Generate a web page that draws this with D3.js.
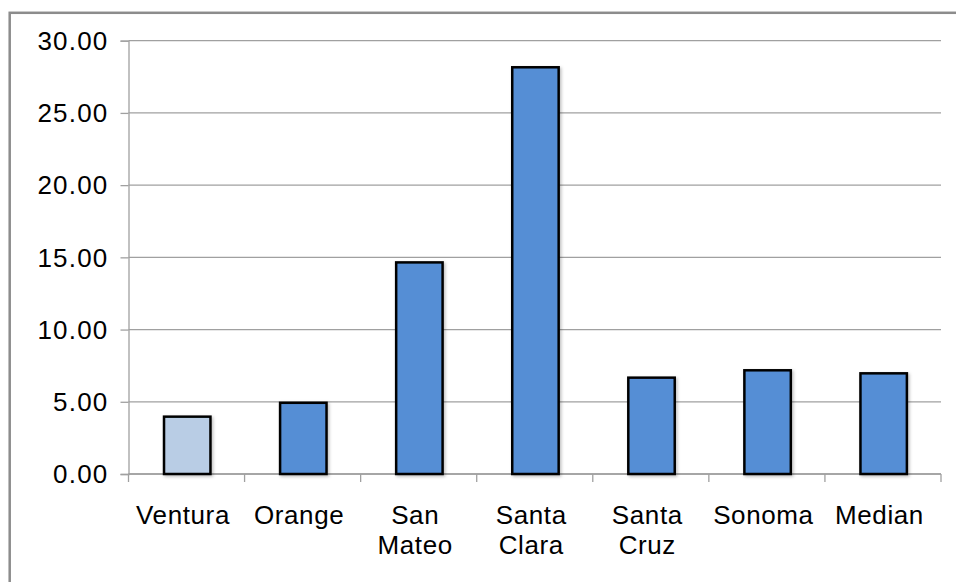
<!DOCTYPE html>
<html>
<head>
<meta charset="utf-8">
<script src="https://cdn.jsdelivr.net/npm/d3@7"></script>
<style>
  html, body { margin: 0; padding: 0; background: #ffffff; }
  svg { display: block; }
  text { font-family: "Liberation Sans", Arial, sans-serif; fill: #000; }
</style>
</head>
<body>
<svg id="chart" width="956" height="582"></svg>
<script>
// County values (one bar each); the first bar is highlighted in a lighter tint
const categories = ["Ventura", "Orange", "San Mateo", "Santa Clara", "Santa Cruz", "Sonoma", "Median"];
const labelLines = [["Ventura"], ["Orange"], ["San", "Mateo"], ["Santa", "Clara"], ["Santa", "Cruz"], ["Sonoma"], ["Median"]];
const values = [3.97, 4.93, 14.65, 28.16, 6.67, 7.18, 6.97];
const highlight = ["Ventura"];
const yTicks = [0, 5, 10, 15, 20, 25, 30];

const W = 956, H = 582;
const margin = { left: 128.5, right: 15, top: 40.7, bottom: 108 };
const svg = d3.select("#chart");

// Outer frame: only the top and left edges fall within the page
svg.append("rect")
  .attr("x", 9.7).attr("y", 12.8)
  .attr("width", W + 20).attr("height", H + 20)
  .attr("fill", "none").attr("stroke", "#8c8c8c").attr("stroke-width", 2.5);

const x = d3.scaleBand()
  .domain(categories)
  .range([margin.left, W - margin.right])
  .paddingInner(0).paddingOuter(0);

const y = d3.scaleLinear()
  .domain([0, 30])
  .range([H - margin.bottom, margin.top]);

const defs = svg.append("defs");
const shadow = defs.append("filter").attr("id", "barShadow")
  .attr("x", "-20%").attr("y", "-20%").attr("width", "150%").attr("height", "150%");
shadow.append("feDropShadow")
  .attr("dx", 1.5).attr("dy", 1.5).attr("stdDeviation", 1.5)
  .attr("flood-color", "#000").attr("flood-opacity", 0.25);

// Horizontal gridlines
svg.append("g")
  .selectAll("line")
  .data(yTicks)
  .join("line")
  .attr("x1", margin.left).attr("x2", W - margin.right)
  .attr("y1", d => y(d)).attr("y2", d => y(d))
  .attr("stroke", "#a0a0a0").attr("stroke-width", 1.3);

// Y axis
const yAxis = svg.append("g")
  .attr("transform", `translate(${margin.left},0)`)
  .call(d3.axisLeft(y).tickValues(yTicks).tickFormat(d3.format(".2f")).tickSize(8).tickPadding(12));
yAxis.select(".domain").attr("stroke", "#a0a0a0").attr("stroke-width", 1.3);
yAxis.selectAll(".tick line").attr("stroke", "#a0a0a0").attr("stroke-width", 1.3);
yAxis.selectAll(".tick text")
  .attr("font-size", 26).attr("fill", "#000")
  .attr("font-family", "Liberation Sans, Arial, sans-serif")
  .attr("letter-spacing", 1.2)
  .attr("dy", "0.34em");

// X axis: ticks on category boundaries
const boundaries = categories.map(c => x(c)).concat([x(categories[categories.length - 1]) + x.bandwidth()]);
const xAxis = svg.append("g");
xAxis.append("line")
  .attr("x1", margin.left).attr("x2", W - margin.right)
  .attr("y1", y(0)).attr("y2", y(0))
  .attr("stroke", "#a0a0a0").attr("stroke-width", 1.3);
xAxis.selectAll("line.tick")
  .data(boundaries)
  .join("line").attr("class", "tick")
  .attr("x1", d => d).attr("x2", d => d)
  .attr("y1", y(0)).attr("y2", y(0) + 8)
  .attr("stroke", "#a0a0a0").attr("stroke-width", 1.3);

// Bars
const barW = x.bandwidth() * 0.40;
svg.append("g")
  .selectAll("rect")
  .data(categories)
  .join("rect")
  .attr("x", d => x(d) + (x.bandwidth() - barW) / 2 + 0.7)
  .attr("y", (d, i) => y(values[i]))
  .attr("width", barW)
  .attr("height", (d, i) => y(0) - y(values[i]))
  .attr("fill", d => highlight.includes(d) ? "#b9cde5" : "#558ed5")
  .attr("stroke", "#000").attr("stroke-width", 2.5)
  .attr("filter", "url(#barShadow)");

// Category labels (wrapped onto two lines where needed)
const labelX = d => x(d) + x.bandwidth() / 2 - 3.5;
const labels = svg.append("g")
  .selectAll("text")
  .data(categories)
  .join("text")
  .attr("text-anchor", "middle")
  .attr("font-size", 26)
  .attr("letter-spacing", 0.6)
  .attr("x", labelX)
  .attr("y", 523.5);
labels.each(function(d, i) {
  d3.select(this).selectAll("tspan")
    .data(labelLines[i])
    .join("tspan")
    .attr("x", labelX(d))
    .attr("dy", (t, j) => j === 0 ? 0 : 30.7)
    .text(t => t);
});
</script>
</body>
</html>
